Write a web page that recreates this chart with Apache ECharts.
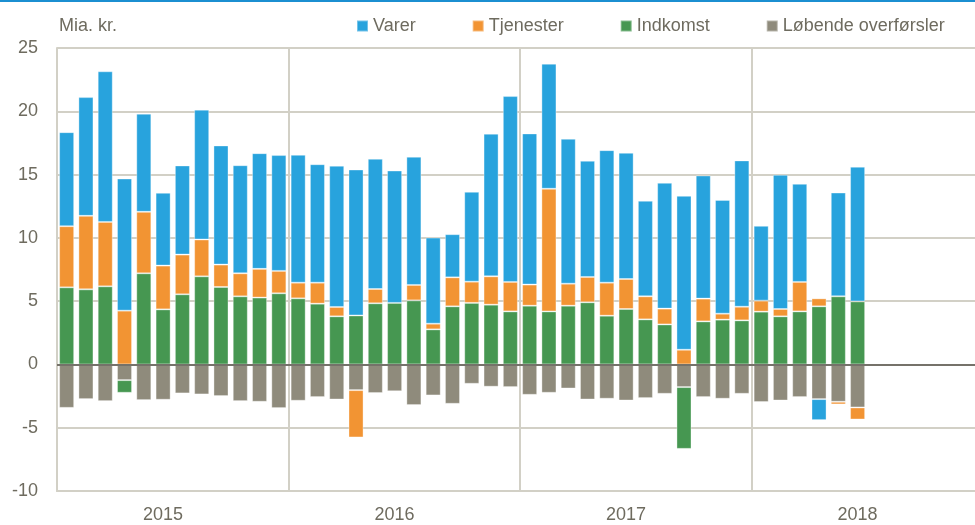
<!DOCTYPE html>
<html>
<head>
<meta charset="utf-8">
<script src="https://cdn.jsdelivr.net/npm/echarts@6/dist/echarts.min.js"></script>
<style>
html,body{margin:0;padding:0;background:#fff;overflow:hidden;width:975px;height:525px;}
#chart{width:984px;height:525px;}
</style>
</head>
<body>
<div id="chart"></div>
<script>
// Months Jan 2015 – Dec 2018 (data through Jun 2018)
var years = ['2015', '2016', '2017', '2018'];
var months = ['01','02','03','04','05','06','07','08','09','10','11','12'];
var categories = [];
years.forEach(function (y) { months.forEach(function (m) { categories.push(y + '-' + m); }); });

// Mia. kr.
var varer = [7.43, 9.38, 11.9, 10.44, 7.75, 5.75, 7.04, 10.26, 9.41, 8.54, 9.14, 9.15,
             10.1, 9.36, 11.16, 11.53, 10.29, 10.46, 10.13, 6.8, 3.41, 7.1, 11.27, 14.68,
             11.94, 9.88, 11.45, 9.18, 10.47, 9.97, 7.55, 9.94, 12.16, 9.73, 8.99, 11.56,
             5.91, 10.6, 7.75, -1.66, 8.2, 10.64, null, null, null, null, null, null];
var tjenester = [4.83, 5.81, 5.09, 4.25, 4.86, 3.46, 3.14, 2.91, 1.77, 1.82, 2.27, 1.77,
                 1.24, 1.66, 0.74, -3.74, 1.13, -0.08, 1.22, 0.45, 2.29, 1.68, 2.24, 2.33,
                 1.67, 9.69, 1.74, 2.0, 2.61, 2.37, 1.82, 1.25, 1.16, 1.8, 0.47, 1.08,
                 0.87, 0.58, 2.33, 0.63, -0.21, -0.95, null, null, null, null, null, null];
var indkomst = [6.09, 5.93, 6.17, -1.0, 7.2, 4.35, 5.54, 6.96, 6.12, 5.38, 5.28, 5.62,
                5.22, 4.8, 3.8, 3.87, 4.83, 4.86, 5.06, 2.77, 4.59, 4.86, 4.72, 4.19,
                4.64, 4.19, 4.64, 4.91, 3.85, 4.38, 3.56, 3.16, -4.88, 3.4, 3.54, 3.48,
                4.17, 3.8, 4.19, 4.59, 5.38, 4.98, null, null, null, null, null, null];
var loebende = [-3.43, -2.74, -2.9, -1.24, -2.82, -2.79, -2.29, -2.37, -2.5, -2.9, -2.95, -3.45,
                -2.87, -2.58, -2.77, -2.03, -2.26, -2.12, -3.21, -2.45, -3.11, -1.53, -1.76, -1.79,
                -2.4, -2.24, -1.9, -2.77, -2.71, -2.85, -2.66, -2.32, -1.79, -2.58, -2.71, -2.32,
                -2.97, -2.85, -2.58, -2.74, -2.95, -3.4, null, null, null, null, null, null];
var yTicks = {min: -10, max: 25, step: 5};

var TXT = '#6e6b5f';
var FONT = '"Liberation Sans", Arial, sans-serif';
var FS = 18;
var GRID = '#d2d0c6';

function barSeries(name, data, color) {
  return {
    name: name, type: 'bar', stack: 'total', data: data,
    barWidth: '78%',
    itemStyle: {color: color, borderColor: 'rgba(255,255,255,0.35)', borderWidth: 1},
    emphasis: {disabled: true}
  };
}

var series = [
  barSeries('Løbende overførsler', loebende, '#8f8b7c'),
  barSeries('Indkomst', indkomst, '#469751'),
  barSeries('Tjenester', tjenester, '#f29433'),
  barSeries('Varer', varer, '#28a3dd')
];
series[3].markLine = {
  silent: true, symbol: 'none', label: {show: false},
  lineStyle: {color: '#75726a', width: 2, type: 'solid'},
  data: [{yAxis: 0}], animation: false
};

var chart = echarts.init(document.getElementById('chart'), null, {renderer: 'canvas'});
chart.setOption({
  animation: false,
  textStyle: {fontFamily: FONT},
  title: {
    text: 'Mia. kr.', left: 59, top: 17, padding: 0,
    textStyle: {fontFamily: FONT, fontSize: FS, fontWeight: 'normal', color: TXT}
  },
  legend: {
    data: ['Varer', 'Tjenester', 'Indkomst', 'Løbende overførsler'],
    left: 356, top: 17, padding: 0,
    icon: 'rect', itemWidth: 11, itemHeight: 11, itemGap: 56,
    textStyle: {fontFamily: FONT, fontSize: FS, color: TXT},
    selectedMode: false
  },
  graphic: [{
    type: 'rect', shape: {x: 0, y: 0, width: 984, height: 2},
    style: {fill: '#1b8fd1'}, silent: true
  }],
  grid: {left: 57, right: 1, top: 48, bottom: 34, containLabel: false},
  xAxis: {
    type: 'category', data: categories, boundaryGap: true,
    axisLine: {show: true, onZero: false, lineStyle: {color: GRID, width: 2}},
    axisTick: {show: false},
    axisLabel: {
      interval: function (i) { return i % 12 === 5; },
      formatter: function (v) { return v.slice(0, 4); },
      fontFamily: FONT, fontSize: FS, color: TXT, margin: 15
    },
    splitLine: {
      show: true,
      interval: function (i) { return i % 12 === 0; },
      lineStyle: {color: GRID, width: 2}
    }
  },
  yAxis: {
    type: 'value', min: yTicks.min, max: yTicks.max, interval: yTicks.step,
    axisLine: {show: true, lineStyle: {color: GRID, width: 2}},
    axisTick: {show: false},
    axisLabel: {fontFamily: FONT, fontSize: FS, color: TXT, margin: 19},
    splitLine: {show: true, lineStyle: {color: GRID, width: 2}}
  },
  series: series
});
</script>
</body>
</html>
